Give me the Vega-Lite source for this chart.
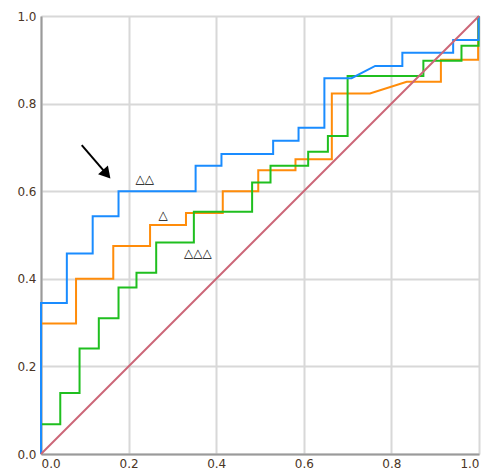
{
  "$schema": "https://vega.github.io/schema/vega-lite/v6.json",
  "autosize": "none",
  "width": 438,
  "height": 438,
  "padding": {"left": 41, "top": 16, "right": 8, "bottom": 18},
  "background": "white",
  "config": {
    "view": {"stroke": null},
    "axis": {
      "labelFont": "DejaVu Sans",
      "labelFontSize": 12,
      "labelColor": "#4a3525",
      "gridColor": "#d8d8d8",
      "gridWidth": 2,
      "domainColor": "#9a9a9a",
      "domainWidth": 2,
      "ticks": false,
      "title": null
    }
  },
  "datasets": {
    "curves": [
      {"s": "a_orange", "o": 0, "x": 0, "y": 0},
      {"s": "a_orange", "o": 1, "x": 0, "y": 0.298},
      {"s": "a_orange", "o": 2, "x": 0.08, "y": 0.298},
      {"s": "a_orange", "o": 3, "x": 0.08, "y": 0.4},
      {"s": "a_orange", "o": 4, "x": 0.165, "y": 0.4},
      {"s": "a_orange", "o": 5, "x": 0.165, "y": 0.475},
      {"s": "a_orange", "o": 6, "x": 0.249, "y": 0.475},
      {"s": "a_orange", "o": 7, "x": 0.249, "y": 0.523},
      {"s": "a_orange", "o": 8, "x": 0.331, "y": 0.523},
      {"s": "a_orange", "o": 9, "x": 0.331, "y": 0.55},
      {"s": "a_orange", "o": 10, "x": 0.415, "y": 0.55},
      {"s": "a_orange", "o": 11, "x": 0.415, "y": 0.6},
      {"s": "a_orange", "o": 12, "x": 0.496, "y": 0.6},
      {"s": "a_orange", "o": 13, "x": 0.496, "y": 0.648},
      {"s": "a_orange", "o": 14, "x": 0.581, "y": 0.648},
      {"s": "a_orange", "o": 15, "x": 0.581, "y": 0.673},
      {"s": "a_orange", "o": 16, "x": 0.664, "y": 0.673},
      {"s": "a_orange", "o": 17, "x": 0.664, "y": 0.823},
      {"s": "a_orange", "o": 18, "x": 0.751, "y": 0.823},
      {"s": "a_orange", "o": 19, "x": 0.835, "y": 0.85},
      {"s": "a_orange", "o": 20, "x": 0.913, "y": 0.85},
      {"s": "a_orange", "o": 21, "x": 0.913, "y": 0.9},
      {"s": "a_orange", "o": 22, "x": 0.998, "y": 0.9},
      {"s": "a_orange", "o": 23, "x": 0.998, "y": 1.0},
      {"s": "b_green", "o": 0, "x": 0, "y": 0},
      {"s": "b_green", "o": 1, "x": 0, "y": 0.068},
      {"s": "b_green", "o": 2, "x": 0.044, "y": 0.068},
      {"s": "b_green", "o": 3, "x": 0.044, "y": 0.139},
      {"s": "b_green", "o": 4, "x": 0.088, "y": 0.139},
      {"s": "b_green", "o": 5, "x": 0.088, "y": 0.241},
      {"s": "b_green", "o": 6, "x": 0.132, "y": 0.241},
      {"s": "b_green", "o": 7, "x": 0.132, "y": 0.31},
      {"s": "b_green", "o": 8, "x": 0.177, "y": 0.31},
      {"s": "b_green", "o": 9, "x": 0.177, "y": 0.38},
      {"s": "b_green", "o": 10, "x": 0.218, "y": 0.38},
      {"s": "b_green", "o": 11, "x": 0.218, "y": 0.414},
      {"s": "b_green", "o": 12, "x": 0.263, "y": 0.414},
      {"s": "b_green", "o": 13, "x": 0.263, "y": 0.483},
      {"s": "b_green", "o": 14, "x": 0.349, "y": 0.483},
      {"s": "b_green", "o": 15, "x": 0.349, "y": 0.553},
      {"s": "b_green", "o": 16, "x": 0.482, "y": 0.553},
      {"s": "b_green", "o": 17, "x": 0.482, "y": 0.62},
      {"s": "b_green", "o": 18, "x": 0.524, "y": 0.62},
      {"s": "b_green", "o": 19, "x": 0.524, "y": 0.658},
      {"s": "b_green", "o": 20, "x": 0.61, "y": 0.658},
      {"s": "b_green", "o": 21, "x": 0.61, "y": 0.69},
      {"s": "b_green", "o": 22, "x": 0.655, "y": 0.69},
      {"s": "b_green", "o": 23, "x": 0.655, "y": 0.726},
      {"s": "b_green", "o": 24, "x": 0.7, "y": 0.726},
      {"s": "b_green", "o": 25, "x": 0.7, "y": 0.863},
      {"s": "b_green", "o": 26, "x": 0.873, "y": 0.863},
      {"s": "b_green", "o": 27, "x": 0.873, "y": 0.898},
      {"s": "b_green", "o": 28, "x": 0.96, "y": 0.898},
      {"s": "b_green", "o": 29, "x": 0.96, "y": 0.932},
      {"s": "b_green", "o": 30, "x": 0.999, "y": 0.932},
      {"s": "b_green", "o": 31, "x": 0.999, "y": 1.0},
      {"s": "c_blue", "o": 0, "x": 0, "y": 0},
      {"s": "c_blue", "o": 1, "x": 0, "y": 0.345},
      {"s": "c_blue", "o": 2, "x": 0.059, "y": 0.345},
      {"s": "c_blue", "o": 3, "x": 0.059, "y": 0.458},
      {"s": "c_blue", "o": 4, "x": 0.118, "y": 0.458},
      {"s": "c_blue", "o": 5, "x": 0.118, "y": 0.543},
      {"s": "c_blue", "o": 6, "x": 0.177, "y": 0.543},
      {"s": "c_blue", "o": 7, "x": 0.177, "y": 0.6},
      {"s": "c_blue", "o": 8, "x": 0.353, "y": 0.6},
      {"s": "c_blue", "o": 9, "x": 0.353, "y": 0.658},
      {"s": "c_blue", "o": 10, "x": 0.412, "y": 0.658},
      {"s": "c_blue", "o": 11, "x": 0.412, "y": 0.685},
      {"s": "c_blue", "o": 12, "x": 0.53, "y": 0.685},
      {"s": "c_blue", "o": 13, "x": 0.53, "y": 0.715},
      {"s": "c_blue", "o": 14, "x": 0.588, "y": 0.715},
      {"s": "c_blue", "o": 15, "x": 0.588, "y": 0.745},
      {"s": "c_blue", "o": 16, "x": 0.647, "y": 0.745},
      {"s": "c_blue", "o": 17, "x": 0.647, "y": 0.858},
      {"s": "c_blue", "o": 18, "x": 0.709, "y": 0.858},
      {"s": "c_blue", "o": 19, "x": 0.763, "y": 0.886},
      {"s": "c_blue", "o": 20, "x": 0.825, "y": 0.886},
      {"s": "c_blue", "o": 21, "x": 0.825, "y": 0.916},
      {"s": "c_blue", "o": 22, "x": 0.941, "y": 0.916},
      {"s": "c_blue", "o": 23, "x": 0.941, "y": 0.945},
      {"s": "c_blue", "o": 24, "x": 0.999, "y": 0.945},
      {"s": "c_blue", "o": 25, "x": 0.999, "y": 1.0}
    ],
    "diag": [
      {"x": 0, "y": 0},
      {"x": 1, "y": 1}
    ],
    "labels": [
      {"x": 0.237, "y": 0.628, "t": "△△"},
      {"x": 0.279, "y": 0.546, "t": "△"},
      {"x": 0.358, "y": 0.46, "t": "△△△"}
    ],
    "arrow": [
      {"x": 0.093, "y": 0.705, "x2": 0.15, "y2": 0.639}
    ]
  },
  "layer": [
    {
      "data": {"name": "curves"},
      "mark": {"type": "line", "strokeWidth": 2, "clip": false},
      "encoding": {
        "x": {
          "field": "x", "type": "quantitative",
          "scale": {"domain": [0, 1], "nice": false},
          "axis": {"values": [0, 0.2, 0.4, 0.6, 0.8, 1.0], "format": ".1f", "labelPadding": 4}
        },
        "y": {
          "field": "y", "type": "quantitative",
          "scale": {"domain": [0, 1], "nice": false},
          "axis": {"values": [0, 0.2, 0.4, 0.6, 0.8, 1.0], "format": ".1f", "labelPadding": 5}
        },
        "color": {
          "field": "s", "type": "nominal",
          "scale": {"domain": ["a_orange", "b_green", "c_blue"], "range": ["#ff8c0a", "#1fbf1f", "#1a8cff"]},
          "legend": null
        },
        "order": {"field": "o", "type": "quantitative"}
      }
    },
    {
      "data": {"name": "diag"},
      "mark": {"type": "line", "strokeWidth": 2, "color": "#cc6677"},
      "encoding": {
        "x": {"field": "x", "type": "quantitative"},
        "y": {"field": "y", "type": "quantitative"}
      }
    },
    {
      "data": {"name": "labels"},
      "mark": {"type": "text", "font": "DejaVu Sans", "fontSize": 12, "fontWeight": "bold", "color": "black", "baseline": "middle", "align": "center"},
      "encoding": {
        "x": {"field": "x", "type": "quantitative"},
        "y": {"field": "y", "type": "quantitative"},
        "text": {"field": "t", "type": "nominal"}
      }
    },
    {
      "data": {"name": "arrow"},
      "mark": {"type": "rule", "strokeWidth": 2, "color": "black"},
      "encoding": {
        "x": {"field": "x", "type": "quantitative"},
        "y": {"field": "y", "type": "quantitative"},
        "x2": {"field": "x2"},
        "y2": {"field": "y2"}
      }
    },
    {
      "data": {"name": "arrow"},
      "mark": {"type": "point", "shape": "triangle-up", "filled": true, "color": "black", "size": 170, "angle": 139, "opacity": 1},
      "encoding": {
        "x": {"field": "x2", "type": "quantitative"},
        "y": {"field": "y2", "type": "quantitative"}
      }
    }
  ]
}
